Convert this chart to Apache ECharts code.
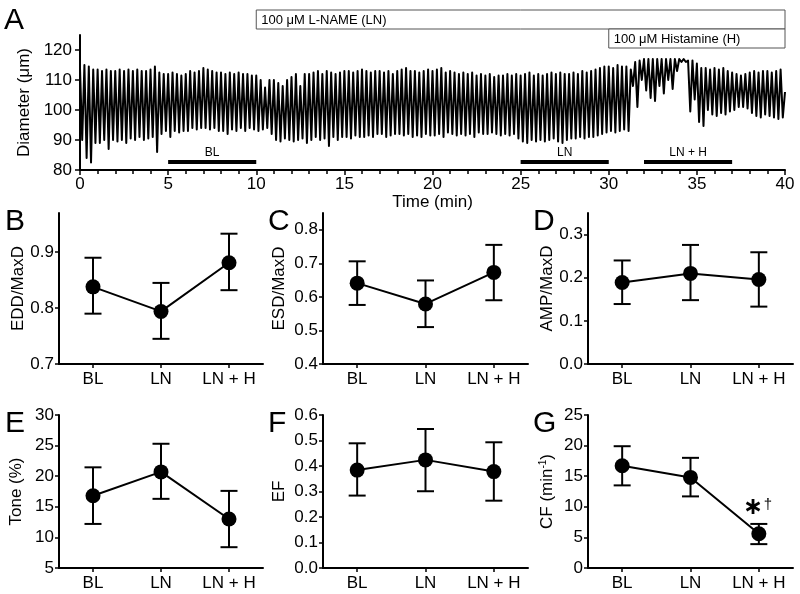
<!DOCTYPE html>
<html><head><meta charset="utf-8">
<script src="https://cdn.jsdelivr.net/npm/echarts@6/dist/echarts.min.js"></script>
<style>html,body{margin:0;padding:0;background:#fff}#c{width:800px;height:594px}</style>
</head><body><div id="c"></div>
<script>
// ---------- DATA ----------
// Panel A: diameter trace, alternating peak/trough values read every 0.25 min
const traceStep = 0.25;
const tracePeaks = [
 114,115,114.5,113.5, 113.5,113,113.5,113, 113,113.5,113,113.5, 113,113.5,113,113,
 113.5,114.5,112.5,112, 112,112.5,112,111.5, 112,113,112.5,113, 114,113.5,113,112.5,
 112.5,112,112.5,112, 112.5,112,112,111.5, 111.5,110,107.5,110, 110,109,108,110,
 111,112,108,112, 112,112.5,113,112, 113,112.5,112,112.5, 113,113,112.5,113,
 113.5,113,112.5,113, 113,112.5,113,112, 113,113.5,114,113, 113,112.5,113,113.5,
 113,113.5,114,112.5, 113,112.5,112,112.5, 112,112.5,111.5,112, 111.5,112,111,111.5,
 111.5,112,111.5,112, 111.5,112,112.5,111.5, 112,111.5,112,112.5, 112,112.5,112,112,
 112.5,112,113,112.5, 113,113.5,114,114.5, 114.5,114,115,114.5, 114.5,113.5,116,116.5,
 117,117,117,117, 117,117,117,117, 117,117,116.5,116.5, 115.5,114,114,113.5,
 114,113.5,114,113, 112.5,112,111.5,112, 112.5,113,112.5,113, 113,112.5,113,113.5,
 106];
const traceTroughs = [
 90,84,82.5,89, 89,90,87,90, 89.5,90,89,90.5, 90,91,90,90.5,
 91,86,92,93, 91,93,92.5,93, 93,94,93.5,94, 94,93.5,94,93,
 93,92,93.5,93, 94,93,94,93.5, 93,93.5,94,92, 90,89.5,90.5,90,
 89.5,90,90.5,89, 90,91,90,90.5, 88,91,90,91, 91,90.5,91.5,91,
 91,91.5,91,92, 92,91,91.5,92, 92,91.5,92,91, 91.5,91,92,91.5,
 91.5,92,91,92.5, 92,91.5,92,91.5, 92,91,92.5,92, 92,92.5,92,91.5,
 92,91.5,92,90.5, 89.5,89,90,89.5, 90,89.5,90,90.5, 89.5,89,90,90.5,
 90.5,91,90.5,91, 91,91.5,92,92.5, 93,92.5,93,93.5, 93,108,101,110,
 106.5,104,103,108, 105.5,110,107,113, 116,116,99.5,103.5, 96,94.7,100,98.5,
 98,99,98.5,99.5, 100,101,101,100.5, 99,98,97.5,98.5, 98,97.5,97,97.5];
const diamTicks = [80, 90, 100, 110, 120];
const treatments = [
  {label: '100 \u03bcM L-NAME (LN)', start: 10, end: 40, row: 0},
  {label: '100 \u03bcM Histamine (H)', start: 30, end: 40, row: 1}
];
const periods = [
  {label: 'BL', start: 5, end: 10},
  {label: 'LN', start: 25, end: 30},
  {label: 'LN + H', start: 32, end: 37}
];
const periodLevel = 82.7;

// Panels B-G
const categories = ['BL', 'LN', 'LN + H'];
const eddMean = [0.838, 0.794, 0.881], eddLow = [0.790, 0.745, 0.832], eddHigh = [0.890, 0.845, 0.933];
const esdMean = [0.641, 0.579, 0.673], esdLow = [0.576, 0.510, 0.590], esdHigh = [0.706, 0.649, 0.755];
const ampMean = [0.189, 0.210, 0.196], ampLow = [0.139, 0.148, 0.133], ampHigh = [0.240, 0.276, 0.259];
const toneMean = [16.8, 20.7, 13.0], toneLow = [12.2, 16.3, 8.4], toneHigh = [21.45, 25.3, 17.6];
const efMean = [0.384, 0.424, 0.378], efLow = [0.284, 0.301, 0.264], efHigh = [0.489, 0.545, 0.493];
const cfMean = [16.7, 14.8, 5.6], cfLow = [13.5, 11.7, 3.9], cfHigh = [19.9, 18.0, 7.2];
const eddTicks = [0.7, 0.8, 0.9], esdTicks = [0.4, 0.5, 0.6, 0.7, 0.8], ampTicks = [0, 0.1, 0.2, 0.3];
const toneTicks = [5, 10, 15, 20, 25, 30], efTicks = [0, 0.1, 0.2, 0.3, 0.4, 0.5, 0.6], cfTicks = [0, 5, 10, 15, 20, 25];
const sigMarks = [{cat: 2, value: 7.2, star: '\u2217', dagger: '\u2020'}];

// ---------- CHART ----------
const FONT = '"Liberation Sans", Arial, Helvetica, sans-serif';
const chart = echarts.init(document.getElementById('c'), null, {renderer: 'canvas'});

const traceData = [];
for (let i = 0; i < traceTroughs.length; i++) {
  traceData.push([i * traceStep, tracePeaks[i]]);
  traceData.push([i * traceStep + traceStep / 2, traceTroughs[i]]);
}
traceData.push([traceTroughs.length * traceStep, tracePeaks[traceTroughs.length]]);

const panels = [
  {letter: 'B', name: 'EDD/MaxD', mean: eddMean, low: eddLow, high: eddHigh, min: 0.7, max: 0.97, ticks: eddTicks, dec: 1, grid: {left: 59, top: 213, width: 204, height: 151}, gap: 32},
  {letter: 'C', name: 'ESD/MaxD', mean: esdMean, low: esdLow, high: esdHigh, min: 0.4, max: 0.85, ticks: esdTicks, dec: 1, grid: {left: 323, top: 213, width: 205, height: 151}, gap: 35},
  {letter: 'D', name: 'AMP/MaxD', mean: ampMean, low: ampLow, high: ampHigh, min: 0, max: 0.35, ticks: ampTicks, dec: 1, grid: {left: 588, top: 213, width: 205, height: 151}, gap: 32},
  {letter: 'E', name: 'Tone (%)', mean: toneMean, low: toneLow, high: toneHigh, min: 5, max: 30, ticks: toneTicks, dec: 0, grid: {left: 59, top: 415, width: 204, height: 153}, gap: 34},
  {letter: 'F', name: 'EF', mean: efMean, low: efLow, high: efHigh, min: 0, max: 0.6, ticks: efTicks, dec: 1, grid: {left: 323, top: 415, width: 205, height: 153}, gap: 35},
  {letter: 'G', name: 'CF (min{sup|-1})', mean: cfMean, low: cfLow, high: cfHigh, min: 0, max: 25, ticks: cfTicks, dec: 0, grid: {left: 588, top: 415, width: 205, height: 153}, gap: 32}
];

const axisLine = {show: true, lineStyle: {color: '#000', width: 2}};
const tickStyle = {color: '#000', width: 1.5};
const labelStyle = {color: '#000', fontSize: 17, fontFamily: FONT};

const grids = [{left: 80, top: 35, width: 705, height: 135}];
const xAxes = [{
  gridIndex: 0, type: 'value', min: 0, max: 40, interval: 5,
  axisLine, splitLine: {show: false},
  axisTick: {show: true, length: 5, lineStyle: tickStyle},
  minorTick: {show: true, splitNumber: 5, length: 4, lineStyle: tickStyle},
  axisLabel: Object.assign({margin: 6}, labelStyle),
  name: 'Time (min)', nameLocation: 'middle', nameGap: 21,
  nameTextStyle: {color: '#000', fontSize: 17, fontFamily: FONT}
}];
const yAxes = [{
  gridIndex: 0, type: 'value', min: 80, max: 125,
  axisLine, splitLine: {show: false},
  axisTick: {show: true, length: 5, lineStyle: tickStyle, customValues: diamTicks},
  axisLabel: Object.assign({margin: 8, customValues: diamTicks}, labelStyle),
  name: 'Diameter (\u03bcm)', nameLocation: 'middle', nameRotate: 90, nameGap: 43,
  nameTextStyle: {color: '#000', fontSize: 17, fontFamily: FONT}
}];

function errRender(params, api) {
  const x = api.value(0);
  const lo = api.coord([x, api.value(1)]);
  const hi = api.coord([x, api.value(2)]);
  const hw = 8.5;
  const style = {stroke: '#000', lineWidth: 2};
  return {type: 'group', children: [
    {type: 'line', shape: {x1: lo[0], y1: lo[1], x2: hi[0], y2: hi[1]}, style},
    {type: 'line', shape: {x1: lo[0] - hw, y1: lo[1], x2: lo[0] + hw, y2: lo[1]}, style},
    {type: 'line', shape: {x1: hi[0] - hw, y1: hi[1], x2: hi[0] + hw, y2: hi[1]}, style}
  ]};
}

const series = [
  {type: 'line', xAxisIndex: 0, yAxisIndex: 0, data: traceData, showSymbol: false, symbol: 'none',
   lineStyle: {color: '#000', width: 2, join: 'round'}, animation: false, silent: true, z: 2},
  {type: 'custom', xAxisIndex: 0, yAxisIndex: 0, clip: false, silent: true, z: 3,
   data: treatments.map(t => [t.start, t.end, t.row]),
   encode: {x: [0, 1]},
   renderItem: (params, api) => {
     const t = treatments[params.dataIndex];
     const x0 = api.coord([t.start, 125])[0], x1 = api.coord([t.end, 125])[0];
     const gTop = api.coord([0, 125])[1];
     const y0 = gTop - 25 + t.row * 19;
     return {type: 'group', children: [
       {type: 'rect', shape: {x: x0, y: y0, width: x1 - x0, height: 19}, style: {fill: '#fff', stroke: '#555', lineWidth: 1}},
       {type: 'text', style: {text: t.label, x: x0 + 5, y: y0 + 10, verticalAlign: 'middle', align: 'left', fontSize: 13, fill: '#000', fontFamily: FONT}}
     ]};
   }},
  {type: 'custom', xAxisIndex: 0, yAxisIndex: 0, clip: false, silent: true, z: 3,
   data: periods.map(p => [p.start, p.end]),
   encode: {x: [0, 1]},
   renderItem: (params, api) => {
     const p = periods[params.dataIndex];
     const a = api.coord([p.start, periodLevel]), b = api.coord([p.end, periodLevel]);
     return {type: 'group', children: [
       {type: 'line', shape: {x1: a[0], y1: a[1], x2: b[0], y2: b[1]}, style: {stroke: '#000', lineWidth: 4}},
       {type: 'text', style: {text: p.label, x: (a[0] + b[0]) / 2, y: a[1] - 3, align: 'center', verticalAlign: 'bottom', fontSize: 12, fill: '#000', fontFamily: FONT}}
     ]};
   }}
];

const graphics = [{type: 'text', left: 4, top: 6, style: {text: 'A', fontSize: 30, fill: '#000', fontFamily: FONT}}];

panels.forEach((p, k) => {
  const gi = k + 1;
  grids.push(p.grid);
  xAxes.push({
    gridIndex: gi, type: 'category', data: categories, boundaryGap: true,
    axisLine, splitLine: {show: false},
    axisTick: {show: true, alignWithLabel: true, length: 4, lineStyle: tickStyle},
    axisLabel: Object.assign({margin: 7, interval: 0}, labelStyle)
  });
  yAxes.push({
    gridIndex: gi, type: 'value', min: p.min, max: p.max,
    axisLine, splitLine: {show: false},
    axisTick: {show: true, length: 4, lineStyle: tickStyle, customValues: p.ticks},
    axisLabel: Object.assign({margin: 5, customValues: p.ticks, formatter: v => Number(v).toFixed(p.dec)}, labelStyle),
    name: p.name, nameLocation: 'middle', nameRotate: 90, nameGap: p.gap,
    nameTextStyle: {color: '#000', fontSize: 17, fontFamily: FONT,
      rich: {sup: {fontSize: 10, verticalAlign: 'top', padding: [0, 0, 8, 0], fontFamily: FONT, color: '#000'}}}
  });
  series.push({
    type: 'custom', xAxisIndex: gi, yAxisIndex: gi, silent: true, z: 2,
    data: p.mean.map((m, i) => [i, p.low[i], p.high[i]]),
    encode: {x: 0, y: [1, 2]}, renderItem: errRender
  });
  series.push({
    type: 'line', xAxisIndex: gi, yAxisIndex: gi, data: p.mean,
    symbol: 'circle', symbolSize: 15, showSymbol: true,
    itemStyle: {color: '#000'}, lineStyle: {color: '#000', width: 2}, z: 3, silent: true
  });
  if (p.letter === 'G') {
    series.push({
      type: 'custom', xAxisIndex: gi, yAxisIndex: gi, silent: true, clip: false, z: 4,
      data: sigMarks.map(s => [s.cat, s.value]),
      encode: {x: 0, y: 1},
      renderItem: (params, api) => {
        const s = sigMarks[params.dataIndex];
        const c = api.coord([api.value(0), api.value(1)]);
        return {type: 'group', children: [
          {type: 'text', style: {text: s.star, x: c[0] - 6, y: c[1] - 16, align: 'center', verticalAlign: 'middle', fontSize: 24, fontWeight: 'bold', fill: '#000', fontFamily: '"DejaVu Sans", sans-serif'}},
          {type: 'text', style: {text: s.dagger, x: c[0] + 9, y: c[1] - 19, align: 'center', verticalAlign: 'middle', fontSize: 15, fill: '#000', fontFamily: FONT}}
        ]};
      }
    });
  }
  graphics.push({type: 'text', left: (p.grid.left < 100 ? 5 : p.grid.left - 55), top: p.grid.top - 6,
    style: {text: p.letter, fontSize: 30, fill: '#000', fontFamily: FONT}});
});

chart.setOption({
  animation: false,
  backgroundColor: '#fff',
  grid: grids, xAxis: xAxes, yAxis: yAxes, series: series, graphic: graphics
});
</script></body></html>
